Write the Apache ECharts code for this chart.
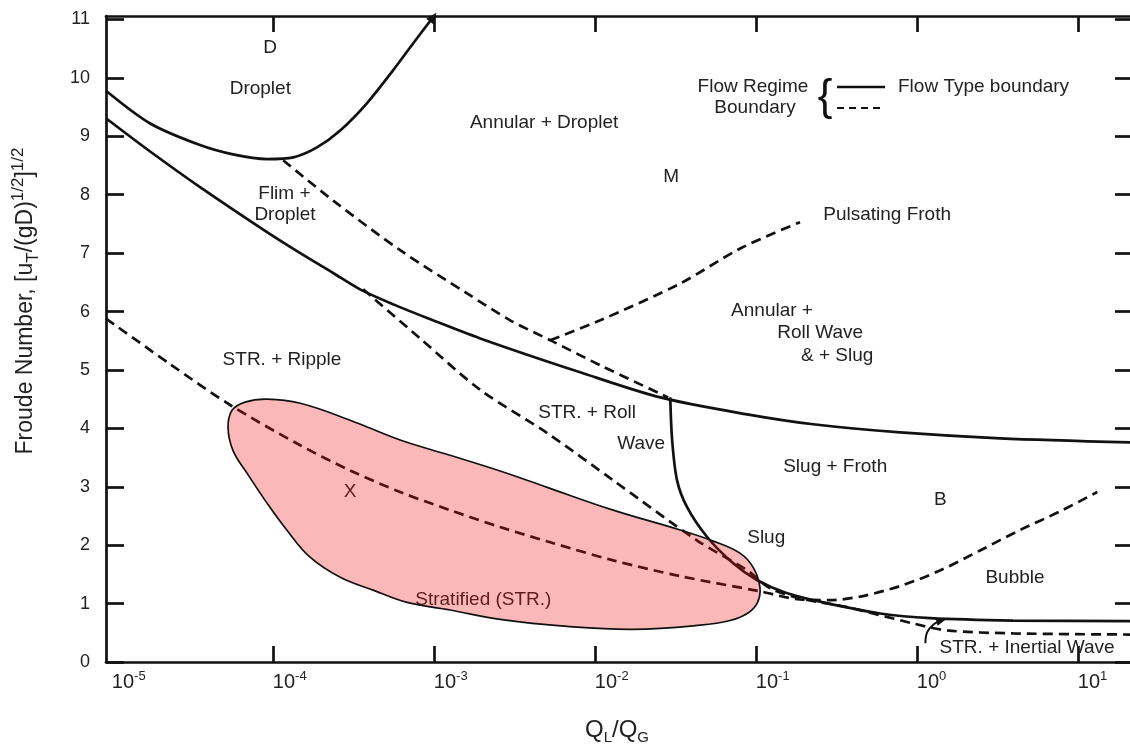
<!DOCTYPE html>
<html>
<head>
<meta charset="utf-8">
<script src="https://cdn.jsdelivr.net/npm/echarts@6/dist/echarts.min.js"></script>
<style>
  html, body { margin: 0; padding: 0; background: #fff; }
  #chart { width: 1130px; height: 751px; }
</style>
</head>
<body>
<div id="chart"></div>
<script>
// Flow-regime map: Froude number vs liquid/gas volumetric flow ratio.
// Every boundary is a list of [Q_L/Q_G, Froude number] points.

const dropletBoundary = [
  [9.2e-6, 9.78], [1.73e-5, 9.22], [3.53e-5, 8.85], [5.66e-5, 8.69], [9.2e-5, 8.61],
  [1.34e-4, 8.64], [1.88e-4, 8.81], [2.62e-4, 9.10], [3.85e-4, 9.57], [5.58e-4, 10.13],
  [7.43e-4, 10.59], [9.9e-4, 11.04]
];

const annularBoundary = [
  [9.2e-6, 9.31], [1.73e-5, 8.74], [3.53e-5, 8.13], [9.2e-5, 7.36], [1.48e-4, 7.00],
  [2.37e-4, 6.66], [3.48e-4, 6.38], [5.75e-4, 6.11], [9.08e-4, 5.89], [1.94e-3, 5.54],
  [8.11e-3, 4.96], [2.55e-2, 4.53], [8.83e-2, 4.24], [0.227, 4.07], [0.787, 3.93],
  [3.29, 3.83], [22, 3.76]
];

const rippleBubbleBoundary = [
  [9.2e-6, 5.88], [2.30e-5, 5.10], [5.43e-5, 4.40], [1.48e-4, 3.71], [3.02e-4, 3.28],
  [6.18e-4, 2.91], [1.26e-3, 2.60], [2.58e-3, 2.31], [5.28e-3, 2.05], [1.30e-2, 1.74],
  [3.39e-2, 1.47], [0.106, 1.21], [0.188, 1.07], [0.289, 1.06], [0.445, 1.12],
  [0.787, 1.30], [1.40, 1.57], [2.47, 1.91], [4.38, 2.26], [7.76, 2.58], [13.2, 2.91]
];

const rollWaveBoundary = [
  [3.64e-4, 6.38], [8.22e-4, 5.54], [1.94e-3, 4.66], [5.06e-3, 3.92], [1.30e-2, 3.11],
  [4.32e-2, 2.08], [8.83e-2, 1.57], [0.123, 1.26], [0.188, 1.09], [0.369, 0.94],
  [0.948, 0.66], [1.54, 0.54], [3.96, 0.49], [22, 0.47]
];

const slugBoundary = [
  [2.94e-2, 4.53], [3.02e-2, 3.80], [3.24e-2, 3.11], [3.74e-2, 2.65], [4.98e-2, 2.14],
  [7.23e-2, 1.69], [0.102, 1.40], [0.152, 1.19], [0.262, 1.02], [0.592, 0.83],
  [1.21, 0.75], [3.96, 0.71], [22, 0.70]
];

const filmDropletBoundary = [
  [1.16e-4, 8.59], [2.37e-4, 7.90], [6.18e-4, 7.05], [1.61e-3, 6.31], [2.98e-3, 5.85],
  [5.28e-3, 5.51], [1.08e-2, 5.08], [2.85e-2, 4.53]
];

const pulsatingFrothBoundary = [
  [5.28e-3, 5.51], [1.08e-2, 5.85], [3.39e-2, 6.48], [8.0e-2, 7.08], [0.188, 7.53]
];

// Shaded stratified operating envelope (closed outline, clockwise from the left tip)
const stratifiedEnvelope = [
  [5.27e-5, 4.01], [5.58e-5, 4.31], [6.73e-5, 4.45], [9.2e-5, 4.50], [1.48e-4, 4.43],
  [3.02e-4, 4.14], [6.18e-4, 3.80], [1.26e-3, 3.54], [2.58e-3, 3.27], [5.06e-3, 2.99],
  [1.30e-2, 2.60], [3.39e-2, 2.26], [5.43e-2, 2.07], [8.0e-2, 1.86], [9.62e-2, 1.62],
  [0.106, 1.28], [0.102, 1.01], [8.83e-2, 0.83], [6.92e-2, 0.71], [4.51e-2, 0.63],
  [1.73e-2, 0.56], [6.73e-3, 0.61], [2.58e-3, 0.73], [1.26e-3, 0.89], [6.82e-4, 1.02],
  [4.20e-4, 1.23], [2.62e-4, 1.45], [1.71e-4, 1.79], [1.22e-4, 2.26], [9.2e-5, 2.72],
  [6.93e-5, 3.23], [5.66e-5, 3.62]
];

// Short leader from the "STR. + Inertial Wave" note to its boundary
const inertialPointer = [[1.13, 0.32], [1.16, 0.51], [1.28, 0.65], [1.42, 0.71]];

// Region names: [text, Q_L/Q_G, Froude number]
const regionNames = [
  ['D', 9.62e-5, 10.51],
  ['Droplet', 8.36e-5, 9.82],
  ['Annular + Droplet', 4.84e-3, 9.24],
  ['M', 2.98e-2, 8.30],
  ['Flim +', 1.18e-4, 8.02],
  ['Droplet', 1.19e-4, 7.65],
  ['STR. + Ripple', 1.14e-4, 5.17],
  ['Annular +', 0.126, 6.02],
  ['Roll Wave', 0.251, 5.63],
  ['& + Slug', 0.320, 5.25],
  ['STR. + Roll', 8.95e-3, 4.26],
  ['Wave', 1.94e-2, 3.73],
  ['Slug + Froth', 0.311, 3.35],
  ['Slug', 0.116, 2.12],
  ['B', 1.40, 2.77],
  ['Bubble', 4.07, 1.45],
  ['STR. + Inertial Wave', 4.84, 0.25]
];
// Left-anchored note
const frothNote = ['Pulsating Froth', 0.262, 7.66];
// Names sitting under the shaded envelope
const envelopeNames = [
  ['X', 3.02e-4, 2.91],
  ['Stratified (STR.)', 2.03e-3, 1.07]
];

const xTickValues = [1e-4, 1e-3, 1e-2, 1e-1, 1, 10];
const xLabelValues = [1e-5, 1e-4, 1e-3, 1e-2, 1e-1, 1, 10];
const xLabelExponents = ['-5', '-4', '-3', '-2', '-1', '0', '1'];
const yTickValues = [0, 1, 2, 3, 4, 5, 6, 7, 8, 9, 10, 11];

const FONT = "'Liberation Sans', Arial, Helvetica, sans-serif";
const INK = '#111';
const TEXT = '#222';

const chart = echarts.init(document.getElementById('chart'));

function boundary(name, data, dashed) {
  return {
    name: name, type: 'line', data: data, symbol: 'none', smooth: 0.3,
    silent: true, z: 3,
    lineStyle: { color: INK, width: 2.7, type: dashed ? [10, 6] : 'solid' }
  };
}

function decadeLabel(v) {
  let best = -1, err = Infinity;
  xLabelValues.forEach(function (t, i) {
    const d = Math.abs(Math.log10(v) - Math.log10(t));
    if (d < err) { err = d; best = i; }
  });
  return err < 1e-6 ? '{b|10}{s|' + xLabelExponents[best] + '}' : '';
}

function nameItems(list, extra) {
  return list.map(function (n) {
    return Object.assign({ name: n[0], value: [n[1], n[2]] }, extra || {});
  });
}

const nameLabel = {
  show: true, position: 'inside', formatter: '{b}', fontSize: 19,
  color: TEXT, fontFamily: FONT, opacity: 1
};

const xCommon = {
  type: 'log', min: 9.2e-6, max: 22,
  axisLine: { show: true, onZero: false, lineStyle: { color: INK, width: 2.7 } },
  axisTick: { show: true, inside: true, length: 16, customValues: xTickValues, lineStyle: { color: INK, width: 2.7 } },
  splitLine: { show: false },
  minorTick: { show: false }
};
const yCommon = {
  type: 'value', min: 0, max: 11.06, interval: 1,
  axisLine: { show: true, onZero: false, lineStyle: { color: INK, width: 2.7 } },
  axisTick: { show: true, inside: true, length: 18, customValues: yTickValues, lineStyle: { color: INK, width: 2.7 } },
  splitLine: { show: false }
};

const option = {
  animation: false,
  backgroundColor: '#fff',
  textStyle: { fontFamily: FONT },
  grid: { left: 106, right: -3, top: 16, bottom: 89, outerBoundsMode: 'none', containLabel: false },
  xAxis: [
    Object.assign({}, xCommon, {
      position: 'bottom',
      axisLabel: {
        show: true, margin: 8, align: 'left', formatter: decadeLabel,
        customValues: xLabelValues,
        rich: {
          b: { fontSize: 20, fontFamily: FONT, color: TEXT, lineHeight: 24, verticalAlign: 'middle' },
          s: { fontSize: 13, fontFamily: FONT, color: TEXT, verticalAlign: 'top' }
        }
      }
    }),
    Object.assign({}, xCommon, { position: 'top', axisLabel: { show: false } })
  ],
  yAxis: [
    Object.assign({}, yCommon, {
      position: 'left',
      axisLabel: {
        show: true, margin: 16, fontSize: 18, color: TEXT, fontFamily: FONT,
        customValues: yTickValues
      }
    }),
    Object.assign({}, yCommon, { position: 'right', axisLabel: { show: false } })
  ],
  series: [
    boundary('Droplet boundary', dropletBoundary, false),
    boundary('Annular boundary', annularBoundary, false),
    boundary('Slug boundary', slugBoundary, false),
    boundary('Ripple / bubble boundary', rippleBubbleBoundary, true),
    boundary('Roll wave boundary', rollWaveBoundary, true),
    boundary('Film droplet boundary', filmDropletBoundary, true),
    boundary('Pulsating froth boundary', pulsatingFrothBoundary, true),
    {
      name: 'Inertial wave pointer', type: 'line', data: inertialPointer, symbol: 'none',
      smooth: 0.4, silent: true, z: 3, lineStyle: { color: INK, width: 2 }
    },
    {
      name: 'Arrow heads', type: 'scatter', silent: true, z: 4,
      symbol: 'triangle', itemStyle: { color: INK, opacity: 1 },
      data: [
        { value: dropletBoundary[dropletBoundary.length - 1], symbolSize: [9, 11], symbolRotate: -38 },
        { value: inertialPointer[inertialPointer.length - 1], symbolSize: [8, 10], symbolRotate: -75 }
      ]
    },
    {
      name: 'Envelope names', type: 'scatter', silent: true, z: 1, symbolSize: 0,
      itemStyle: { opacity: 1 }, label: nameLabel,
      data: nameItems(envelopeNames)
    },
    {
      name: 'Stratified envelope', type: 'custom', coordinateSystem: 'cartesian2d',
      silent: true, z: 5,
      data: [stratifiedEnvelope[0]],
      renderItem: function (params, api) {
        return {
          type: 'polygon',
          shape: { points: stratifiedEnvelope.map(function (p) { return api.coord(p); }), smooth: 0.4 },
          style: { fill: 'rgba(240,20,20,0.30)', stroke: INK, lineWidth: 1.7 }
        };
      }
    },
    {
      name: 'Region names', type: 'scatter', silent: true, z: 6, symbolSize: 0,
      itemStyle: { opacity: 1 }, label: nameLabel,
      data: nameItems(regionNames).concat(nameItems([frothNote], {
        label: { position: 'right', distance: 0 }
      }))
    }
  ],
  graphic: [
    // axis titles
    {
      type: 'text', x: 26, y: 301, rotation: Math.PI / 2, silent: true,
      style: {
        text: 'Froude Number, [u{sub|T}/(gD){sup|1/2}]{sup|1/2}',
        align: 'center', verticalAlign: 'middle',
        font: '23px ' + FONT, fill: TEXT, lineHeight: 32,
        rich: {
          sub: { fontSize: 17, fontFamily: FONT, fill: TEXT, verticalAlign: 'bottom' },
          sup: { fontSize: 17, fontFamily: FONT, fill: TEXT, verticalAlign: 'top' }
        }
      }
    },
    {
      type: 'text', x: 617, y: 730, silent: true,
      style: {
        text: 'Q{sub|L}/Q{sub|G}',
        align: 'center', verticalAlign: 'middle',
        font: '24px ' + FONT, fill: TEXT, lineHeight: 30,
        rich: { sub: { fontSize: 15, fontFamily: FONT, fill: TEXT, verticalAlign: 'bottom' } }
      }
    },
    // boundary key
    {
      type: 'text', x: 753, y: 87, silent: true,
      style: { text: 'Flow Regime', align: 'center', verticalAlign: 'middle', font: '19px ' + FONT, fill: TEXT }
    },
    {
      type: 'text', x: 755, y: 108, silent: true,
      style: { text: 'Boundary', align: 'center', verticalAlign: 'middle', font: '19px ' + FONT, fill: TEXT }
    },
    {
      type: 'text', x: 825, y: 98, silent: true,
      style: { text: '{', align: 'center', verticalAlign: 'middle', font: '44px ' + FONT, fill: INK }
    },
    {
      type: 'line', silent: true,
      shape: { x1: 837, y1: 87, x2: 885, y2: 87 },
      style: { stroke: INK, lineWidth: 2.4 }
    },
    {
      type: 'line', silent: true,
      shape: { x1: 837, y1: 108, x2: 884, y2: 108 },
      style: { stroke: INK, lineWidth: 2.2, lineDash: [7, 5] }
    },
    {
      type: 'text', x: 898, y: 87, silent: true,
      style: { text: 'Flow Type boundary', align: 'left', verticalAlign: 'middle', font: '19px ' + FONT, fill: TEXT }
    }
  ]
};

chart.setOption(option);
</script>
</body>
</html>
